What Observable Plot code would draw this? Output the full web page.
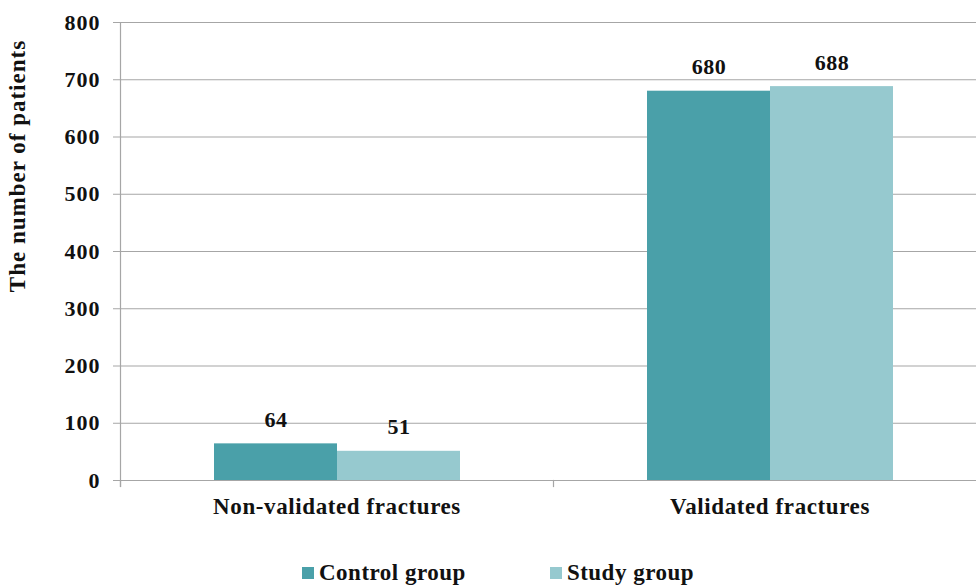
<!DOCTYPE html>
<html>
<head>
<meta charset="utf-8">
<script src="https://cdn.jsdelivr.net/npm/d3@7"></script>
<script src="https://cdn.jsdelivr.net/npm/@observablehq/plot@0.6"></script>
<style>
  html, body { margin: 0; padding: 0; background: #fff; overflow: hidden; }
  #wrap { position: relative; width: 976px; height: 585px; overflow: hidden; font-family: "Times New Roman", "Liberation Serif", "DejaVu Serif", serif; font-weight: bold; color: #111; }
  #ytitle { position: absolute; left: 18px; top: 166px; transform: translate(-50%, -50%) rotate(-90deg); font-size: 23px; letter-spacing: 1px; white-space: nowrap; }
  #legend { position: absolute; top: 561px; left: 302px; display: flex; gap: 84px; font-size: 23px; line-height: 24px; letter-spacing: 0.5px; }
  .item { display: flex; align-items: center; gap: 5px; }
  .sw { width: 12px; height: 12px; display: inline-block; }
  #chart g[aria-label="fx-axis tick label"] text { letter-spacing: 0.6px; }
  #chart g[aria-label="y-axis tick label"] text { letter-spacing: 1px; }
  #chart g[aria-label="text"] text { letter-spacing: 0.5px; }
</style>
</head>
<body>
<div id="wrap">
  <div id="chart"></div>
  <div id="ytitle">The number of patients</div>
  <div id="legend"></div>
</div>
<script>
const categories = ["Non-validated fractures", "Validated fractures"];
const groups = ["Control group", "Study group"];
const controlValues = [64, 680];
const studyValues = [51, 688];
const groupColors = ["#4aa0a9", "#96c9cf"];
const yTicks = [0, 100, 200, 300, 400, 500, 600, 700, 800];

const data = categories.flatMap((c, i) => [
  {category: c, group: groups[0], value: controlValues[i]},
  {category: c, group: groups[1], value: studyValues[i]}
]);

const serifStack = "'Times New Roman', 'Liberation Serif', 'DejaVu Serif', serif";

const chart = Plot.plot({
  width: 986,
  height: 530,
  marginLeft: 120,
  marginRight: 0,
  marginTop: 22,
  marginBottom: 50,
  style: {fontFamily: serifStack, fontWeight: "bold", fontSize: "22px", color: "#111", maxWidth: "none", overflow: "visible"},
  fx: {domain: categories, padding: 0, label: null},
  x: {domain: groups, paddingInner: 0, paddingOuter: 0.753, axis: null},
  y: {domain: [0, 800], label: null},
  color: {domain: groups, range: groupColors},
  marks: [
    Plot.gridY(yTicks, {stroke: "#a6a6a6", strokeOpacity: 1, strokeWidth: 1.2}),
    Plot.barY(data, {fx: "category", x: "group", y: "value", fill: "group"}),
    Plot.ruleY([0], {stroke: "#a6a6a6", strokeWidth: 1.2}),
    Plot.frame({anchor: "left", stroke: "#a6a6a6", strokeWidth: 1.2, insetBottom: -6, facetAnchor: "left"}),
    Plot.frame({anchor: "left", stroke: "#a6a6a6", strokeWidth: 1.2, insetTop: 458, insetBottom: -6}),
    Plot.axisY({ticks: yTicks, tickSize: 7, tickPadding: 13, stroke: "#a6a6a6", label: null, fontSize: 22, fontFamily: serifStack}),
    Plot.axisFx({anchor: "bottom", tickSize: 0, tickPadding: 17, label: null, fontSize: 23, fontFamily: serifStack}),
    Plot.text(data, {fx: "category", x: "group", y: "value", text: d => String(d.value), lineAnchor: "bottom", dy: -17, fontSize: 22, fontFamily: serifStack, fill: "#111"})
  ]
});
document.getElementById("chart").appendChild(chart);

const legend = document.getElementById("legend");
groups.forEach((g, i) => {
  const item = document.createElement("div");
  item.className = "item";
  const sw = document.createElement("span");
  sw.className = "sw";
  sw.style.background = groupColors[i];
  const t = document.createElement("span");
  t.textContent = g;
  item.appendChild(sw);
  item.appendChild(t);
  legend.appendChild(item);
});
</script>
</body>
</html>
